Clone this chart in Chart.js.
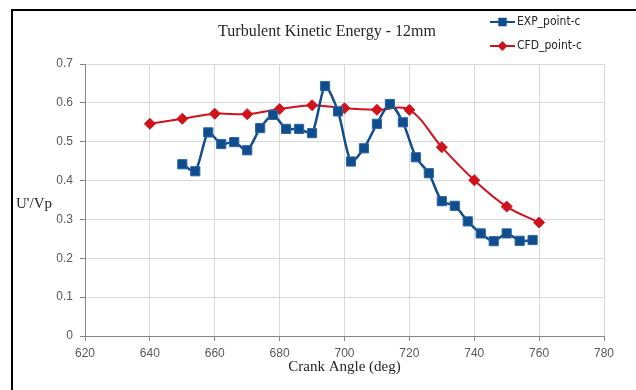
<!DOCTYPE html>
<html>
<head>
<meta charset="utf-8">
<script src="https://cdn.jsdelivr.net/npm/chart.js@4"></script>
<style>
  html, body { margin: 0; padding: 0; background: #fff; }
  #wrap { width: 636px; height: 390px; position: relative; }
</style>
</head>
<body>
<div id="wrap"><canvas id="tkeChart" width="636" height="390"></canvas></div>
<script>
// crank angle (deg) and U'/Vp
const expAngles = [650, 654, 658, 662, 666, 670, 674, 678, 682, 686, 690, 694, 698, 702,
  706, 710, 714, 718, 722, 726, 730, 734, 738, 742, 746, 750, 754, 758];
const expValues = [0.442, 0.424, 0.524, 0.494, 0.499, 0.478, 0.535, 0.569, 0.533, 0.533, 0.522, 0.643, 0.578, 0.449,
  0.483, 0.546, 0.597, 0.550, 0.460, 0.419, 0.347, 0.335, 0.295, 0.264, 0.244, 0.264, 0.245, 0.247];
const cfdAngles = [640, 650, 660, 670, 680, 690, 700, 710, 720, 730, 740, 750, 760];
const cfdValues = [0.546, 0.559, 0.572, 0.571, 0.584, 0.594, 0.586, 0.582, 0.582, 0.486, 0.401, 0.333, 0.292];

const seriesNames = ['EXP_point-c', 'CFD_point-c'];
const titleText = 'Turbulent Kinetic Energy - 12mm';
const xTitle = 'Crank Angle (deg)';
const yTitle = "U'/Vp";

const BLUE = '#104d8c';
const RED = '#d0131b';
const serif = '"Liberation Serif", "Times New Roman", serif';
const sans = '"Liberation Sans", Arial, sans-serif';

const toPoints = (xs, ys) => xs.map((x, i) => ({ x: x, y: ys[i] }));

// frame, title, axis titles and the legend, placed like the original
const decorations = {
  id: 'decorations',
  afterDraw(chart) {
    const ctx = chart.ctx;
    const area = chart.chartArea;
    ctx.save();

    ctx.strokeStyle = '#000';
    ctx.lineWidth = 2;
    ctx.beginPath();
    ctx.moveTo(12, 390);
    ctx.lineTo(12, 10);
    ctx.lineTo(636, 10);
    ctx.stroke();

    ctx.fillStyle = '#262626';
    ctx.textBaseline = 'middle';
    ctx.textAlign = 'center';
    ctx.font = '16px ' + serif;
    ctx.fillText(titleText, 327, 32);

    ctx.font = '15px ' + serif;
    ctx.fillText(xTitle, (area.left + area.right) / 2, 367);

    ctx.textAlign = 'left';
    ctx.fillText(yTitle, 16, 204);

    // legend
    const rows = [
      { y: 22, color: BLUE, style: 'rect', r: 4.5 },
      { y: 46, color: RED, style: 'rectRot', r: 3.5 }
    ];
    ctx.font = '12px "Liberation Sans Narrow", "DejaVu Sans Condensed", ' + sans;
    rows.forEach((row, i) => {
      ctx.strokeStyle = row.color;
      ctx.lineWidth = 2;
      ctx.beginPath();
      ctx.moveTo(490, row.y);
      ctx.lineTo(515, row.y);
      ctx.stroke();
      ctx.fillStyle = row.color;
      Chart.helpers.drawPoint(ctx, { pointStyle: row.style, radius: row.r, borderWidth: 1 }, 502.5, row.y);
      ctx.fillStyle = '#262626';
      ctx.fillText(seriesNames[i], 517, row.y);
    });

    ctx.restore();
  }
};

new Chart(document.getElementById('tkeChart'), {
  type: 'line',
  data: {
    datasets: [
      {
        label: seriesNames[0],
        data: toPoints(expAngles, expValues),
        borderColor: BLUE,
        backgroundColor: BLUE,
        borderWidth: 2.5,
        pointStyle: 'rect',
        pointRadius: 6.5,
        pointBorderWidth: 1,
        pointBorderColor: '#2a66a8',
        tension: 0.25
      },
      {
        label: seriesNames[1],
        data: toPoints(cfdAngles, cfdValues),
        borderColor: RED,
        backgroundColor: RED,
        borderWidth: 2,
        pointStyle: 'rectRot',
        pointRadius: 5.5,
        pointBorderWidth: 1,
        tension: 0.35
      }
    ]
  },
  options: {
    responsive: false,
    animation: false,
    layout: { padding: { left: 0, top: 64, right: 32, bottom: 0 } },
    plugins: {
      legend: { display: false },
      title: { display: false },
      tooltip: { enabled: false }
    },
    scales: {
      x: {
        type: 'linear',
        min: 620,
        max: 780,
        afterFit(scale) { scale.height = 54; },
        ticks: { stepSize: 20, padding: 5, color: '#595959', font: { family: sans, size: 12 } },
        grid: { color: '#d9d9d9', tickColor: '#868686', tickLength: 5 },
        border: { color: '#868686', width: 1 }
      },
      y: {
        min: 0,
        max: 0.7,
        afterFit(scale) { scale.width = 85; },
        ticks: { stepSize: 0.1, padding: 7, color: '#595959', font: { family: sans, size: 12 },
          callback: (v) => v === 0 ? '0' : v.toFixed(1) },
        grid: { color: '#d9d9d9', tickColor: '#868686', tickLength: 5 },
        border: { color: '#868686', width: 1 }
      }
    }
  },
  plugins: [decorations]
});
</script>
</body>
</html>
